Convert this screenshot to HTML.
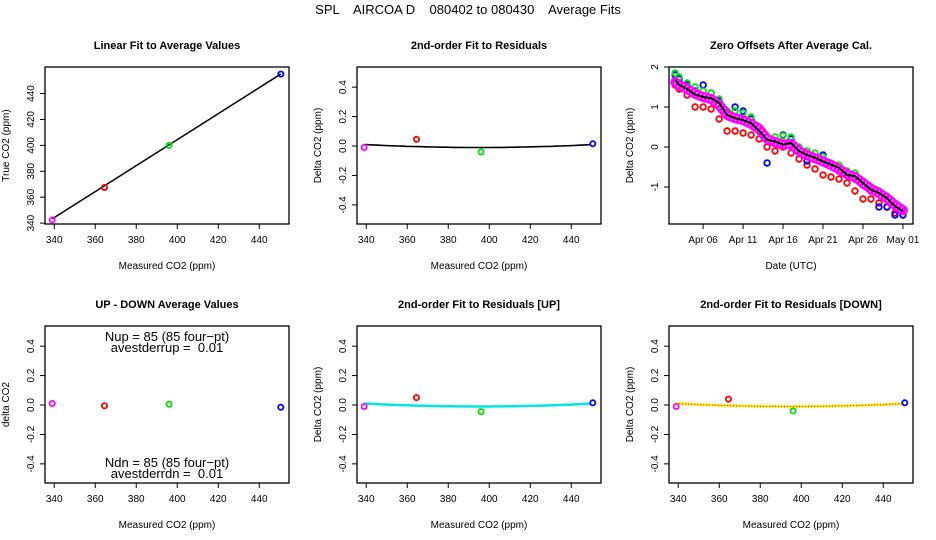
<!DOCTYPE html>
<html><head><meta charset="utf-8">
<style>
html,body{margin:0;padding:0;background:#fff;}
svg{display:block;font-family:"Liberation Sans",Arial,sans-serif;}
</style></head>
<body>
<svg id="chart" width="936" height="540" viewBox="0 0 936 540" xmlns="http://www.w3.org/2000/svg">
<text x="468" y="14" text-anchor="middle" font-size="13" style="white-space:pre" xml:space="preserve">SPL    AIRCOA D    080402 to 080430    Average Fits</text>
</svg>
<script>
// ---- data ----
const measured = [339, 364.5, 396, 450.5];
const trueVals = [342.5, 367.5, 400, 455];
const ptColors = ['#ff00ff', '#ff0000', '#00dd00', '#0000ff'];
const residAll = [-0.01, 0.045, -0.04, 0.015];
const residUp = [-0.01, 0.05, -0.045, 0.015];
const residDn = [-0.01, 0.04, -0.04, 0.015];
const upDown = [0.01, -0.005, 0.005, -0.015];
const linFit = [3.2, 1.003];            // intercept, slope
const quadFit = [-0.01, 395, 0.0000064]; // min value, vertex, curvature
const xTicks = [340, 360, 380, 400, 420, 440];
const yTicksTrue = [340, 360, 380, 400, 420, 440];
const yTicksDelta = [-0.4, -0.2, 0.0, 0.4, 0.2];
const yTickLabelsDelta = ['-0.4', '-0.2', '0.0', '0.4', '0.2'];
const days = [2.5,3,4,5,6,7,8,9,10,11,12,13,14,15,16,17,18,19,20,21,22,23,24,25,26,27,28,29,30,31];
const zeroBlack = [1.68,1.55,1.45,1.31,1.25,1.22,1.1,0.8,0.72,0.67,0.6,0.4,0.18,0.14,0.06,0.1,-0.1,-0.2,-0.27,-0.36,-0.44,-0.52,-0.7,-0.73,-0.9,-1.07,-1.15,-1.28,-1.48,-1.6];
const zeroMagenta = [1.62,1.55,1.45,1.33,1.25,1.2,1.05,0.8,0.72,0.67,0.58,0.45,0.2,0.12,0.06,0.08,-0.1,-0.2,-0.28,-0.36,-0.45,-0.55,-0.68,-0.75,-0.9,-1.05,-1.15,-1.28,-1.45,-1.58];
const zeroGreen = [1.85,1.75,1.6,1.5,1.4,1.35,1.2,0.9,0.9,0.85,0.75,0.5,0.2,0.25,0.28,0.25,0.0,-0.1,-0.15,-0.25,-0.4,-0.45,-0.6,-0.65,-0.85,-1.0,-1.1,-1.25,-1.45,-1.55];
const zeroBlue = [1.8,1.7,1.55,1.4,1.55,1.35,1.15,0.9,1.0,0.9,0.7,0.5,-0.4,0.15,0.3,0.2,-0.05,-0.35,-0.25,-0.2,-0.45,-0.6,-0.7,-0.8,-0.95,-1.1,-1.5,-1.5,-1.7,-1.7];
const zeroRed = [1.55,1.45,1.3,1.0,1.0,0.95,0.7,0.4,0.4,0.35,0.3,0.2,0.0,-0.1,0.0,-0.15,-0.3,-0.45,-0.55,-0.7,-0.75,-0.8,-0.9,-1.1,-1.3,-1.3,-1.4,-1.5,-1.65,-1.7];
const dateTicks = [6, 11, 16, 21, 26, 31];
const dateLabels = ['Apr 06', 'Apr 11', 'Apr 16', 'Apr 21', 'Apr 26', 'May 01'];
const zeroTicks = [-1, 0, 1, 2];

const svg = document.getElementById('chart');
const NS = 'http://www.w3.org/2000/svg';
function el(tag, attrs, parent, txt) {
  const e = document.createElementNS(NS, tag);
  for (const k in attrs) e.setAttribute(k, attrs[k]);
  if (txt !== undefined) e.textContent = txt;
  (parent || svg).appendChild(e);
  return e;
}
function mkScale(d0, d1, r0, r1) { return v => r0 + (v - d0) / (d1 - d0) * (r1 - r0); }

function panel(name, L, T, W, H, xd, yd, title, xlab, ylab) {
  const g = el('g', {});
  
  
  const sx = mkScale(xd[0], xd[1], L, L + W);
  const sy = mkScale(yd[0], yd[1], T + H, T);
  const box = el('rect', {x: L, y: T, width: W, height: H, fill: 'none', stroke: '#000', 'stroke-width': 1.3}, g);
  
  
  const t = el('text', {x: L + W / 2, y: T - 18, 'text-anchor': 'middle', 'font-size': 11, 'font-weight': 'bold'}, g, title);
  
  
  const xl = el('text', {x: L + W / 2, y: T + H + 45, 'text-anchor': 'middle', 'font-size': 10}, g, xlab);
  
  
  const yx = L - 36, yy = T + H / 2;
  const yl = el('text', {x: yx, y: yy, 'text-anchor': 'middle', 'font-size': 10, transform: `rotate(-90 ${yx} ${yy})`}, g, ylab);
  
  
  return {g, sx, sy, L, T, W, H};
}
function xAxis(p, ticks, labels) {
  ticks.forEach((v, i) => {
    const x = p.sx(v);
    el('line', {x1: x, x2: x, y1: p.T + p.H, y2: p.T + p.H + 5, stroke: '#000'}, p.g);
    const tx = el('text', {x: x, y: p.T + p.H + 19, 'text-anchor': 'middle', 'font-size': 10}, p.g, labels ? labels[i] : String(v));
    
    
  });
}
function yAxis(p, ticks, labels) {
  ticks.forEach((v, i) => {
    const y = p.sy(v);
    el('line', {x1: p.L - 5, x2: p.L, y1: y, y2: y, stroke: '#000'}, p.g);
    const x = p.L - 11;
    const tx = el('text', {x: x, y: y, 'text-anchor': 'middle', 'font-size': 10, transform: `rotate(-90 ${x} ${y})`}, p.g, labels ? labels[i] : String(v));
    
    
  });
}
function points(p, xs, ys, cols, name) {
  xs.forEach((v, i) => {
    const c = el('circle', {cx: p.sx(v), cy: p.sy(ys[i]), r: 2.6, fill: 'none', stroke: cols[i], 'stroke-width': 1.8}, p.g);
    
    
  });
}
function quadPath(p) {
  let d = '';
  for (let x = measured[0]; x <= measured[3] + 0.01; x += 2) {
    const y = quadFit[0] + quadFit[2] * (x - quadFit[1]) * (x - quadFit[1]);
    d += (d ? 'L' : 'M') + p.sx(x).toFixed(1) + ',' + p.sy(y).toFixed(1);
  }
  return d;
}

const XD = [335.5, 454.5], YD = [-0.53, 0.537];
const colL = [45, 357, 669], rowT = [67, 326], PW = 244, PH = 157;

// Panel 1
const p1 = panel('linear-fit-panel', colL[0], rowT[0], PW, PH, XD, [339.3, 460.5], 'Linear Fit to Average Values', 'Measured CO2 (ppm)', 'True CO2 (ppm)');
xAxis(p1, xTicks); yAxis(p1, yTicksTrue);
const fl = el('line', {x1: p1.sx(measured[0]), y1: p1.sy(linFit[0] + linFit[1] * measured[0]), x2: p1.sx(measured[3]), y2: p1.sy(linFit[0] + linFit[1] * measured[3]), stroke: '#000', 'stroke-width': 1.5}, p1.g);


points(p1, measured, trueVals, ptColors, 'calibration-point');

// Panel 2
const p2 = panel('residual-fit-panel', colL[1], rowT[0], PW, PH, XD, YD, '2nd-order Fit to Residuals', 'Measured CO2 (ppm)', 'Delta CO2 (ppm)');
xAxis(p2, xTicks); yAxis(p2, yTicksDelta, yTickLabelsDelta);
const q2 = el('path', {d: quadPath(p2), fill: 'none', stroke: '#000', 'stroke-width': 1.6}, p2.g);


points(p2, measured, residAll, ptColors, 'residual-point');

// Panel 3
const p3 = panel('zero-offsets-panel', colL[2], rowT[0], PW, PH, [1.73, 32.26], [-1.925, 2.0], 'Zero Offsets After Average Cal.', 'Date (UTC)', 'Delta CO2 (ppm)');
xAxis(p3, dateTicks, dateLabels); yAxis(p3, zeroTicks);
function series(p, ys, col, name) {
  days.forEach((d, i) => {
    const c = el('circle', {cx: p.sx(d), cy: p.sy(ys[i]), r: 2.8, fill: 'none', stroke: col, 'stroke-width': 1.8}, p.g);
    
    
  });
}
series(p3, zeroRed, '#ff0000', 'red-offset-point');
series(p3, zeroBlue, '#0000ff', 'blue-offset-point');
series(p3, zeroGreen, '#00ee00', 'green-offset-point');
const bandPts = days.map((d, i) => p3.sx(d).toFixed(1) + ',' + p3.sy(zeroMagenta[i]).toFixed(1)).join(' ');
const band = el('polyline', {points: bandPts, fill: 'none', stroke: '#ff00ff', 'stroke-width': 10, 'stroke-linejoin': 'round', 'stroke-linecap': 'round'}, p3.g);


const bandDots = el('polyline', {points: bandPts, fill: 'none', stroke: '#ffffff', 'stroke-width': 6, 'stroke-dasharray': '1,3', opacity: 0.6}, p3.g);


const bl = el('polyline', {points: days.map((d, i) => p3.sx(d).toFixed(1) + ',' + p3.sy(zeroBlack[i]).toFixed(1)).join(' '), fill: 'none', stroke: '#000', 'stroke-width': 2}, p3.g);



// Panel 4
const p4 = panel('up-down-panel', colL[0], rowT[1], PW, PH, XD, YD, 'UP - DOWN Average Values', 'Measured CO2 (ppm)', 'delta CO2');
xAxis(p4, xTicks); yAxis(p4, yTicksDelta, yTickLabelsDelta);
points(p4, measured, upDown, ptColors, 'up-down-point');
[['Nup = 85 (85 four\u2212pt)', 341], ['avestderrup =  0.01', 352], ['Ndn = 85 (85 four\u2212pt)', 467], ['avestderrdn =  0.01', 478]].forEach(a => {
  const t = el('text', {x: 167, y: a[1], 'text-anchor': 'middle', 'font-size': 13, style: 'white-space:pre'}, p4.g, a[0]);
  
  
});

// Panel 5
const p5 = panel('residual-up-panel', colL[1], rowT[1], PW, PH, XD, YD, '2nd-order Fit to Residuals [UP]', 'Measured CO2 (ppm)', 'Delta CO2 (ppm)');
xAxis(p5, xTicks); yAxis(p5, yTicksDelta, yTickLabelsDelta);
const q5 = el('path', {d: quadPath(p5), fill: 'none', stroke: '#00e5e5', 'stroke-width': 2.5}, p5.g);


points(p5, measured, residUp, ptColors, 'residual-up-point');

// Panel 6
const p6 = panel('residual-down-panel', colL[2], rowT[1], PW, PH, XD, YD, '2nd-order Fit to Residuals [DOWN]', 'Measured CO2 (ppm)', 'Delta CO2 (ppm)');
xAxis(p6, xTicks); yAxis(p6, yTicksDelta, yTickLabelsDelta);
const q6 = el('path', {d: quadPath(p6), fill: 'none', stroke: '#ffee00', 'stroke-width': 2.5}, p6.g);


const q6b = el('path', {d: quadPath(p6), fill: 'none', stroke: '#ff0000', 'stroke-width': 1, 'stroke-dasharray': '1,2'}, p6.g);


points(p6, measured, residDn, ptColors, 'residual-down-point');
</script>
</body></html>
